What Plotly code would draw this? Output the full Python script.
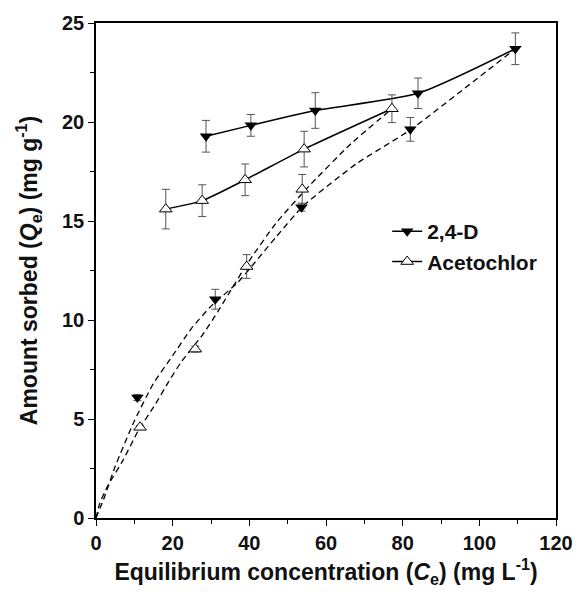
import plotly.graph_objects as go

# ---- data ----
# 2,4-D: measured points on the upper (solid) curve
d24_x = [28.7, 40.4, 57.2, 84.0, 109.4]
d24_y = [19.28, 19.83, 20.58, 21.45, 23.7]
d24_err = [0.8, 0.55, 0.9, 0.77, 0.8]

# 2,4-D: measured points near the dashed (fitted) curve
d24_pts_x = [10.8, 31.1, 53.6, 82.0]
d24_pts_y = [6.08, 11.05, 15.7, 19.63]
d24_pts_err = [0.15, 0.5, 0.2, 0.6]

# 2,4-D: dashed fitted curve
d24_fit_x = [0, 2, 5, 10, 15, 20, 25, 30, 37, 47, 54, 68, 82, 95.5, 109.4]
d24_fit_y = [0, 0.95, 2.6, 4.9, 6.8, 8.2, 9.6, 10.7, 11.9, 14.2, 15.75, 17.9, 19.6, 21.6, 23.7]

# Acetochlor: measured points on the upper (solid) curve
ace_x = [18.2, 27.7, 38.9, 54.3, 77.2]
ace_y = [15.6, 16.03, 17.08, 18.63, 20.67]
ace_err = [1.0, 0.8, 0.8, 0.9, 0.7]

# Acetochlor: measured points near the dashed (fitted) curve
ace_pts_x = [11.5, 25.9, 39.3, 53.8]
ace_pts_y = [4.58, 8.53, 12.7, 16.6]
ace_pts_err = [0.1, 0.15, 0.6, 0.75]

# Acetochlor: dashed fitted curve
ace_fit_x = [0, 1, 3, 7, 11, 15.5, 19, 22.3, 27.8, 31.7, 39.3, 47, 55.5, 66.5, 77.2]
ace_fit_y = [0, 0.75, 1.6, 2.9, 4.4, 5.75, 6.9, 7.9, 9.25, 10.4, 12.8, 14.9, 16.75, 18.9, 20.67]

x_ticks = [0, 20, 40, 60, 80, 100, 120]
y_ticks = [0, 5, 10, 15, 20, 25]

FONT = "Liberation Sans, Arial, sans-serif"
TXT = "#111111"
ERRC = "#555555"
MS = 11

fig = go.Figure()

dash_line = dict(color="black", width=1.3, dash="6px,4px", shape="spline", smoothing=0.5)
fig.add_trace(go.Scatter(x=d24_fit_x, y=d24_fit_y, mode="lines", line=dash_line,
                         showlegend=False, hoverinfo="skip"))
fig.add_trace(go.Scatter(x=ace_fit_x, y=ace_fit_y, mode="lines", line=dash_line,
                         showlegend=False, hoverinfo="skip"))

fig.add_trace(go.Scatter(
    x=d24_pts_x, y=d24_pts_y, mode="markers",
    marker=dict(symbol="triangle-down", size=MS, color="black"),
    error_y=dict(type="data", array=d24_pts_err, color=ERRC, thickness=1, width=4),
    showlegend=False))
fig.add_trace(go.Scatter(
    x=ace_pts_x, y=ace_pts_y, mode="markers",
    marker=dict(symbol="triangle-up", size=MS, color="white", line=dict(color="black", width=1)),
    error_y=dict(type="data", array=ace_pts_err, color=ERRC, thickness=1, width=4),
    showlegend=False))

fig.add_trace(go.Scatter(
    x=d24_x, y=d24_y, mode="lines+markers", name="<b>2,4-D</b>",
    line=dict(color="black", width=1.5, shape="spline", smoothing=0.6),
    marker=dict(symbol="triangle-down", size=MS, color="black"),
    error_y=dict(type="data", array=d24_err, color=ERRC, thickness=1, width=4)))
fig.add_trace(go.Scatter(
    x=ace_x, y=ace_y, mode="lines+markers", name="<b>Acetochlor</b>",
    line=dict(color="black", width=1.5, shape="spline", smoothing=0.6),
    marker=dict(symbol="triangle-up", size=MS, color="white", line=dict(color="black", width=1)),
    error_y=dict(type="data", array=ace_err, color=ERRC, thickness=1, width=4)))

axis_common = dict(
    showgrid=False, zeroline=False, showline=True, linecolor="black", linewidth=1.5,
    mirror=True, ticks="outside", ticklen=6, tickwidth=1.3, tickcolor="black",
    tickfont=dict(family=FONT, size=20, color=TXT),
)

fig.update_xaxes(
    range=[0, 120], tickvals=x_ticks, ticktext=[f"<b>{v}</b>" for v in x_ticks],
    minor=dict(ticks="outside", ticklen=4, dtick=10, tickcolor="black", tickwidth=1.2),
    title=dict(text="<b>Equilibrium concentration (<i>C</i><sub>e</sub>) (mg L<sup>-1</sup>)</b>",
               font=dict(family=FONT, size=23, color=TXT), standoff=11),
    **axis_common)
fig.update_yaxes(
    range=[0, 25], tickvals=y_ticks, ticktext=[f"<b>{v}</b>" for v in y_ticks],
    minor=dict(ticks="outside", ticklen=4, dtick=2.5, tickcolor="black", tickwidth=1.2),
    title=dict(text="<b>Amount sorbed (<i>Q</i><sub>e</sub>) (mg g<sup>-1</sup>)</b>",
               font=dict(family=FONT, size=23, color=TXT), standoff=18),
    **axis_common)

fig.update_layout(
    width=585, height=597,
    margin=dict(l=96, r=19, t=19, b=79),
    paper_bgcolor="white", plot_bgcolor="white",
    showlegend=True,
    legend=dict(x=0.633, y=0.62, xanchor="left", yanchor="top",
                bgcolor="rgba(0,0,0,0)", borderwidth=0,
                font=dict(family=FONT, size=21, color=TXT),
                itemwidth=30, tracegroupgap=0),
)

fig.write_html("out.html")
